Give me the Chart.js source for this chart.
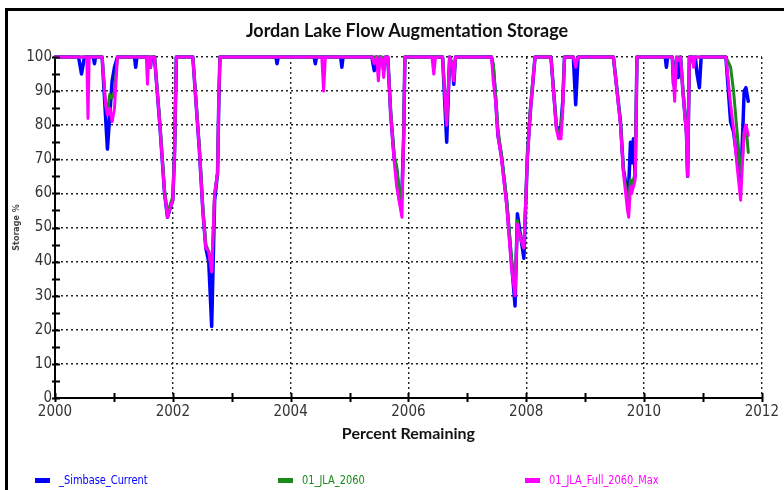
<!DOCTYPE html>
<html>
<head>
<meta charset="utf-8">
<script src="https://cdn.jsdelivr.net/npm/chart.js@4.4.1/dist/chart.umd.min.js"></script>
<style>
body { margin: 0; background: #fff; }
#wrap { position: relative; width: 784px; height: 490px; overflow: hidden; background: #fff; }
#frame { position: absolute; left: 5px; top: 8px; width: 820px; height: 520px; border-left: 3px solid #000; border-top: 3px solid #000; }
#chart { position: absolute; left: 0; top: 0; }
#title { position: absolute; left: 207px; width: 400px; top: 19px; line-height: 22px; text-align: center; font-family: Lato, "Open Sans", sans-serif; font-weight: bold; font-size: 18px; color: #111; }
.item { position: absolute; top: 472px; font-family: "Liberation Sans Narrow", "DejaVu Sans Condensed", sans-serif; font-size: 13px; white-space: nowrap; }
.item .sw { display: inline-block; width: 15px; height: 5px; vertical-align: middle; margin-right: 9px; }
.item .tx { display: inline-block; transform: scaleX(0.84); transform-origin: left center; }
</style>
</head>
<body>
<div id="wrap">
  <div id="frame"></div>
  <canvas id="chart" width="784" height="490"></canvas>
  <div id="title">Jordan Lake Flow Augmentation Storage</div>
  <div id="legend"></div>
</div>
<script>
// decimal years, shared by all three series
const years = [
  2000.00, 2000.40, 2000.45, 2000.50, 2000.54, 2000.56, 2000.58, 2000.65, 2000.67, 2000.69,
  2000.80, 2000.86, 2000.89, 2000.93, 2000.97, 2001.01, 2001.06, 2001.35, 2001.37, 2001.39,
  2001.55, 2001.57, 2001.59, 2001.62, 2001.64, 2001.69, 2001.78, 2001.86, 2001.91, 2001.96,
  2002.00, 2002.03, 2002.06, 2002.34, 2002.45, 2002.51, 2002.56, 2002.61, 2002.66, 2002.71,
  2002.76, 2002.78, 2002.80, 2003.75, 2003.77, 2003.79, 2004.40, 2004.42, 2004.44, 2004.53,
  2004.56, 2004.59, 2004.85, 2004.87, 2004.89, 2005.38, 2005.42, 2005.46, 2005.49, 2005.52,
  2005.56, 2005.58, 2005.61, 2005.65, 2005.70, 2005.76, 2005.80, 2005.85, 2005.89, 2005.92,
  2005.94, 2006.40, 2006.43, 2006.46, 2006.58, 2006.65, 2006.70, 2006.75, 2006.77, 2006.80,
  2007.41, 2007.44, 2007.48, 2007.52, 2007.58, 2007.67, 2007.75, 2007.81, 2007.85, 2007.90,
  2007.96, 2008.02, 2008.07, 2008.11, 2008.15, 2008.42, 2008.51, 2008.55, 2008.59, 2008.62,
  2008.65, 2008.80, 2008.84, 2008.88, 2009.48, 2009.60, 2009.65, 2009.72, 2009.74, 2009.77,
  2009.79, 2009.82, 2009.85, 2009.88, 2010.36, 2010.38, 2010.40, 2010.48, 2010.50, 2010.52,
  2010.55, 2010.58, 2010.62, 2010.66, 2010.72, 2010.74, 2010.77, 2010.82, 2010.84, 2010.87,
  2010.90, 2010.94, 2010.97, 2011.39, 2011.47, 2011.52, 2011.58, 2011.64, 2011.68, 2011.70,
  2011.73, 2011.77
];

const simbaseCurrent = [
  100, 100, 95, 100, 100, 100, 100, 100, 98, 100,
  100, 82, 73, 83, 93, 97, 100, 100, 97, 100,
  100, 100, 100, 97, 100, 100, 80, 60, 53, 56,
  58, 72, 100, 100, 73, 55, 44, 40, 21, 58,
  66, 86, 100, 100, 98, 100, 100, 98, 100, 100,
  100, 100, 100, 97, 100, 100, 96, 100, 98, 100,
  99, 96, 100, 100, 83, 70, 67, 58, 60, 77,
  100, 100, 100, 100, 100, 75, 100, 97, 92, 100,
  100, 97, 88, 77, 71, 57, 40, 27, 54, 48,
  41, 71, 84, 92, 100, 100, 80, 78, 80, 87,
  100, 100, 86, 100, 100, 81, 67, 60, 62, 75,
  69, 76, 65, 100, 100, 97, 100, 100, 92, 96,
  99, 94, 100, 90, 78, 65, 100, 100, 98, 100,
  95, 91, 100, 100, 81, 78, 70, 63, 80, 90,
  91, 87
];

const jla2060 = [
  100, 100, 100, 100, 100, 100, 100, 100, 100, 100,
  100, 86, 84, 89, 88, 90, 100, 100, 100, 100,
  100, 100, 100, 100, 100, 100, 81, 61, 54, 57,
  59, 73, 100, 100, 74, 56, 45, 43, 37, 60,
  66, 87, 100, 100, 100, 100, 100, 100, 100, 100,
  100, 100, 100, 100, 100, 100, 100, 100, 100, 100,
  100, 99, 100, 100, 84, 71, 68, 60, 58, 78,
  100, 100, 100, 100, 100, 80, 100, 98, 94, 100,
  100, 98, 89, 79, 71, 58, 41, 32, 52, 47,
  44, 71, 85, 93, 100, 100, 80, 77, 79, 86,
  100, 100, 98, 100, 100, 81, 67, 58, 58, 64,
  62, 64, 66, 100, 100, 100, 100, 100, 95, 90,
  100, 100, 100, 91, 78, 65, 100, 100, 100, 100,
  100, 100, 100, 100, 97, 90, 78, 66, 72, 78,
  80, 72
];

const jlaFull2060Max = [
  100, 100, 100, 100, 100, 82, 100, 100, 100, 100,
  100, 86, 83, 85, 81, 85, 100, 100, 100, 100,
  100, 92, 100, 97, 100, 100, 80, 60, 53, 56,
  58, 72, 100, 100, 73, 55, 44, 43, 37, 60,
  66, 87, 100, 100, 100, 100, 100, 100, 100, 100,
  90, 100, 100, 100, 100, 100, 98, 100, 93, 100,
  99, 94, 100, 100, 83, 69, 62, 57, 53, 77,
  100, 100, 95, 100, 100, 80, 100, 97, 93, 100,
  100, 93, 87, 77, 70, 56, 38, 30, 51, 47,
  44, 70, 84, 92, 100, 100, 79, 76, 76, 84,
  100, 100, 97, 100, 100, 80, 66, 55, 53, 62,
  60, 62, 64, 100, 100, 100, 100, 100, 93, 87,
  100, 99, 100, 90, 77, 65, 100, 100, 97, 100,
  100, 100, 100, 100, 86, 79, 68, 58, 72, 78,
  80, 77
];

const seriesNames = ['_Simbase_Current', '01_JLA_2060', '01_JLA_Full_2060_Max'];
const seriesColors = ['#0000ff', '#1a8a1a', '#ff00ff'];
const legendLeft = [35, 278, 525];

function points(vals) {
  return years.map((x, i) => ({ x: x, y: vals[i] }));
}

const tickFont = { family: '"Liberation Sans Narrow", "DejaVu Sans Condensed", sans-serif', size: 15 };

// small tick marks on both axes (every year / every 5 %)
const minorTicks = {
  id: 'minorTicks',
  afterDatasetsDraw(chart) {
    const { ctx, chartArea, scales } = chart;
    ctx.save();
    ctx.strokeStyle = '#000';
    ctx.lineWidth = 2;
    ctx.beginPath();
    for (let v = 0; v <= 100; v += 5) {
      const y = Math.round(scales.y.getPixelForValue(v)) + 0.5;
      ctx.moveTo(chartArea.left - 3, y);
      ctx.lineTo(chartArea.left + 5, y);
    }
    for (let yr = 2000; yr <= 2012; yr++) {
      const x = Math.round(scales.x.getPixelForValue(yr)) + 0.5;
      ctx.moveTo(x, chartArea.bottom - 5);
      ctx.lineTo(x, chartArea.bottom + 4);
    }
    ctx.stroke();
    ctx.restore();
  }
};

const datasets = [simbaseCurrent, jla2060, jlaFull2060Max].map((vals, i) => ({
  label: seriesNames[i],
  data: points(vals),
  borderColor: seriesColors[i],
  backgroundColor: seriesColors[i],
  borderWidth: i === 0 ? 3.5 : 3,
  borderJoinStyle: 'round',
  borderCapStyle: 'round',
  pointRadius: 0,
  tension: 0,
  fill: false,
  clip: 6,
  order: 2 - i
}));

const config = {
  type: 'line',
  data: { datasets: datasets },
  options: {
    responsive: false,
    animation: false,
    layout: { autoPadding: false, padding: { top: 57, right: 13, bottom: 47, left: 0 } },
    plugins: {
      legend: { display: false },
      tooltip: { enabled: false }
    },
    scales: {
      x: {
        type: 'linear',
        min: 2000,
        max: 2012,
        afterFit: s => { s.height = 45; },
        ticks: {
          stepSize: 1,
          autoSkip: false,
          maxRotation: 0,
          padding: 5,
          color: '#333',
          font: tickFont,
          callback: v => (v % 2 === 0 ? String(v) : '')
        },
        grid: {
          drawTicks: false,
          lineWidth: 1.4,
          color: c => (c.tick && c.tick.value % 2 === 0 ? '#222' : 'rgba(0,0,0,0)')
        },
        border: { display: true, color: '#000', width: 2, dash: [2, 3] },
        title: {
          display: true,
          text: 'Percent Remaining',
          color: '#111',
          font: { family: 'Lato, "Open Sans", sans-serif', size: 16, weight: 'bold' },
          padding: { top: 0, bottom: 0 }
        }
      },
      y: {
        min: 0,
        max: 100,
        afterFit: s => { s.width = 55; },
        ticks: {
          stepSize: 5,
          autoSkip: false,
          padding: 3,
          color: '#333',
          font: tickFont,
          callback: v => (v % 10 === 0 ? String(v) : '')
        },
        grid: {
          drawTicks: false,
          lineWidth: 1.4,
          color: c => (c.tick && c.tick.value % 10 === 0 ? '#222' : 'rgba(0,0,0,0)')
        },
        border: { display: true, color: '#000', width: 2, dash: [2, 3] },
        title: {
          display: true,
          text: 'Storage %',
          color: '#444',
          font: { family: '"DejaVu Sans", sans-serif', size: 8, weight: 'bold' },
          padding: { top: 12, bottom: 0 }
        }
      }
    }
  },
  plugins: [minorTicks]
};

new Chart(document.getElementById('chart').getContext('2d'), config);

// legend row along the bottom
const legend = document.getElementById('legend');
seriesNames.forEach((name, i) => {
  const item = document.createElement('div');
  item.className = 'item';
  item.style.left = legendLeft[i] + 'px';
  item.style.color = seriesColors[i];
  item.innerHTML = '<span class="sw" style="background:' + seriesColors[i] + '"></span><span class="tx">' + name + '</span>';
  legend.appendChild(item);
});
</script>
</body>
</html>
